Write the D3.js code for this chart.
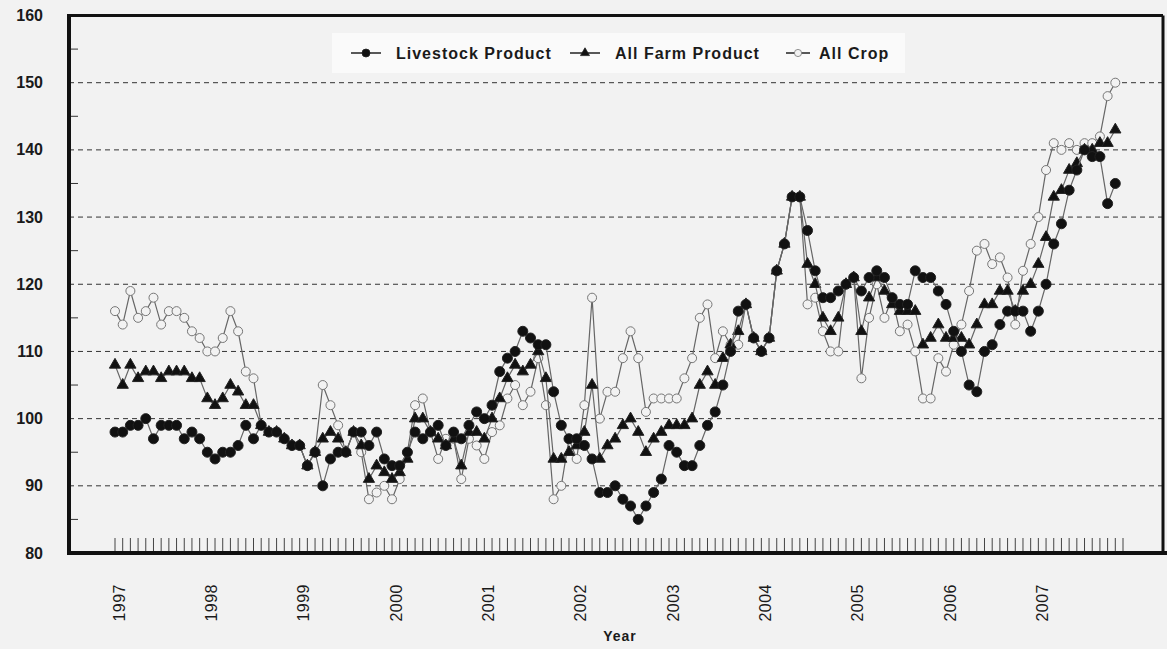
<!DOCTYPE html>
<html>
<head>
<meta charset="utf-8">
<script src="https://cdn.jsdelivr.net/npm/d3@7"></script>
<style>
  body { margin: 0; background: #f2f2f2; }
  text { font-family: "Liberation Sans", Arial, sans-serif; fill: #1a1a1a; font-weight: bold; }
</style>
</head>
<body>
<div id="chart"></div>
<script>
// monthly index, Jan 1997 .. Nov 2007
const years = ["1997", "1998", "1999", "2000", "2001", "2002", "2003", "2004", "2005", "2006", "2007"];
const yTicks = [80, 90, 100, 110, 120, 130, 140, 150, 160];
const seriesNames = ["Livestock Product", "All Farm Product", "All Crop"];

const livestock = [
  98, 98, 99, 99, 100, 97, 99, 99, 99, 97, 98, 97,
  95, 94, 95, 95, 96, 99, 97, 99, 98, 98, 97, 96,
  96, 93, 95, 90, 94, 95, 95, 98, 98, 96, 98, 94,
  93, 93, 95, 98, 97, 98, 99, 96, 98, 97, 99, 101,
  100, 102, 107, 109, 110, 113, 112, 111, 111, 104, 99, 97,
  97, 96, 94, 89, 89, 90, 88, 87, 85, 87, 89, 91,
  96, 95, 93, 93, 96, 99, 101, 105, 110, 116, 117, 112,
  110, 112, 122, 126, 133, 133, 128, 122, 118, 118, 119, 120,
  121, 119, 121, 122, 121, 118, 117, 117, 122, 121, 121, 119,
  117, 113, 110, 105, 104, 110, 111, 114, 116, 116, 116, 113,
  116, 120, 126, 129, 134, 137, 140, 139, 139, 132, 135
];
const farmProduct = [
  108, 105, 108, 106, 107, 107, 106, 107, 107, 107, 106, 106,
  103, 102, 103, 105, 104, 102, 102, 99, 98, 98, 97, 96,
  96, 93, 95, 97, 98, 97, 95, 98, 96, 91, 93, 92,
  91, 92, 94, 100, 100, 98, 97, 96, 97, 93, 98, 98,
  97, 100, 103, 106, 108, 107, 108, 110, 106, 94, 94, 95,
  96, 98, 105, 94, 96, 97, 99, 100, 98, 95, 97, 98,
  99, 99, 99, 100, 105, 107, 105, 109, 111, 113, 117, 112,
  110, 112, 122, 126, 133, 133, 123, 120, 115, 113, 115, 120,
  121, 113, 118, 121, 119, 117, 116, 116, 116, 111, 112, 114,
  112, 112, 112, 111, 114, 117, 117, 119, 119, 116, 119, 120,
  123, 127, 133, 134, 137, 138, 140, 140, 141, 141, 143
];
const allCrop = [
  116, 114, 119, 115, 116, 118, 114, 116, 116, 115, 113, 112,
  110, 110, 112, 116, 113, 107, 106, 99, 98, 98, 97, 96,
  96, 93, 95, 105, 102, 99, 95, 98, 95, 88, 89, 90,
  88, 91, 95, 102, 103, 98, 94, 97, 97, 91, 97, 96,
  94, 98, 99, 103, 105, 102, 104, 109, 102, 88, 90, 97,
  94, 102, 118, 100, 104, 104, 109, 113, 109, 101, 103, 103,
  103, 103, 106, 109, 115, 117, 109, 113, 111, 111, 117, 112,
  110, 112, 122, 126, 133, 133, 117, 118, 113, 110, 110, 120,
  121, 106, 115, 120, 115, 118, 113, 114, 110, 103, 103, 109,
  107, 111, 114, 119, 125, 126, 123, 124, 121, 114, 122, 126,
  130, 137, 141, 140, 141, 140, 141, 141, 142, 148, 150
];

const width = 1167, height = 649;
const plotLeft = 69, plotRight = 1163, plotTop = 15.5, plotBottom = 553;

const svg = d3.select("#chart")
  .append("svg")
  .attr("width", width)
  .attr("height", height);

svg.append("rect").attr("width", width).attr("height", height).attr("fill", "#f2f2f2");

const xscale = d3.scaleLinear().domain([0, 131]).range([115, 1123]);
const yscale = d3.scaleLinear().domain([80, 160]).range([plotBottom, plotTop]);

// dashed gridlines
svg.append("g")
  .selectAll("line")
  .data(yTicks.filter((v) => v > 80 && v < 160))
  .join("line")
  .attr("x1", plotLeft).attr("x2", plotRight)
  .attr("y1", (d) => yscale(d)).attr("y2", (d) => yscale(d))
  .attr("stroke", "#333")
  .attr("stroke-dasharray", "5,4");

// minor y ticks
svg.append("g")
  .selectAll("line")
  .data(d3.range(85, 160, 10))
  .join("line")
  .attr("x1", plotLeft).attr("x2", plotLeft + 9)
  .attr("y1", (d) => yscale(d)).attr("y2", (d) => yscale(d))
  .attr("stroke", "#333");

svg.append("g")
  .selectAll("text")
  .data(yTicks)
  .join("text")
  .attr("x", 43)
  .attr("y", (d) => yscale(d))
  .attr("dy", "0.35em")
  .attr("text-anchor", "end")
  .style("font-size", "16px")
  .text((d) => d);

// month ticks along the bottom
svg.append("g")
  .selectAll("line")
  .data(d3.range(132))
  .join("line")
  .attr("x1", (d) => xscale(d)).attr("x2", (d) => xscale(d))
  .attr("y1", plotBottom - 15).attr("y2", plotBottom)
  .attr("stroke", "#444");

svg.append("g")
  .selectAll("text")
  .data(years)
  .join("text")
  .attr("transform", (d, k) => `translate(${xscale(k * 12) + 4},584) rotate(-90)`)
  .attr("dy", "0.35em")
  .attr("text-anchor", "end")
  .style("font-size", "16px")
  .style("font-weight", "normal")
  .style("letter-spacing", "0.5px")
  .text((d) => d);

svg.append("text")
  .attr("x", 620).attr("y", 641)
  .attr("text-anchor", "middle")
  .style("font-size", "14px")
  .style("letter-spacing", "1px")
  .text("Year");

// frame
const frame = svg.append("g").attr("fill", "none").attr("stroke", "#111");
frame.append("line").attr("x1", plotLeft).attr("x2", plotLeft).attr("y1", plotTop - 1.5).attr("y2", plotBottom + 2).attr("stroke-width", 4);
frame.append("line").attr("x1", plotLeft).attr("x2", plotRight).attr("y1", plotTop).attr("y2", plotTop).attr("stroke-width", 3);
frame.append("line").attr("x1", plotLeft).attr("x2", width).attr("y1", plotBottom).attr("y2", plotBottom).attr("stroke-width", 4);
frame.append("line").attr("x1", plotRight).attr("x2", plotRight).attr("y1", plotTop).attr("y2", plotBottom).attr("stroke-width", 3);

const line = d3.line().x((d, i) => xscale(i)).y((d) => yscale(d));
const triangle = d3.symbol(d3.symbolTriangle, 55);

const drawMarker = (sel, kind) => {
  if (kind === "tri") {
    sel.append("path").attr("d", triangle).attr("fill", "#111").attr("stroke", "#222");
  } else if (kind === "dot") {
    sel.append("circle").attr("r", 5).attr("fill", "#111").attr("stroke", "#222");
  } else {
    sel.append("circle").attr("r", 4.5).attr("fill", "#f2f2f2").attr("stroke", "#777");
  }
};

const series = [
  { values: allCrop, kind: "open" },
  { values: farmProduct, kind: "tri" },
  { values: livestock, kind: "dot" }
];

series.forEach((s) => {
  const g = svg.append("g");
  g.append("path")
    .attr("d", line(s.values))
    .attr("fill", "none")
    .attr("stroke", "#666")
    .attr("stroke-width", 1.2);
  g.selectAll("g")
    .data(s.values)
    .join("g")
    .attr("transform", (d, i) => `translate(${xscale(i)},${yscale(d)})`)
    .call(drawMarker, s.kind);
});

// legend
const legend = svg.append("g");
legend.append("rect")
  .attr("x", 332).attr("y", 33)
  .attr("width", 573).attr("height", 40)
  .attr("fill", "#fafafa");

const legendItems = [
  { name: seriesNames[0], kind: "dot", x: 351, tx: 396 },
  { name: seriesNames[1], kind: "tri", x: 570, tx: 615 },
  { name: seriesNames[2], kind: "open", x: 786, tx: 819 }
];

legendItems.forEach((d) => {
  const w = d.kind === "open" ? 24 : 30;
  legend.append("line")
    .attr("x1", d.x).attr("x2", d.x + w)
    .attr("y1", 53).attr("y2", 53)
    .attr("stroke", "#222").attr("stroke-width", 1.5);
  const m = legend.append("g").attr("transform", `translate(${d.x + w / 2},53) scale(0.8)`);
  drawMarker(m, d.kind);
  legend.append("text")
    .attr("x", d.tx).attr("y", 53)
    .attr("dy", "0.35em")
    .style("font-size", "16px")
    .style("letter-spacing", "1px")
    .text(d.name);
});
</script>
</body>
</html>
